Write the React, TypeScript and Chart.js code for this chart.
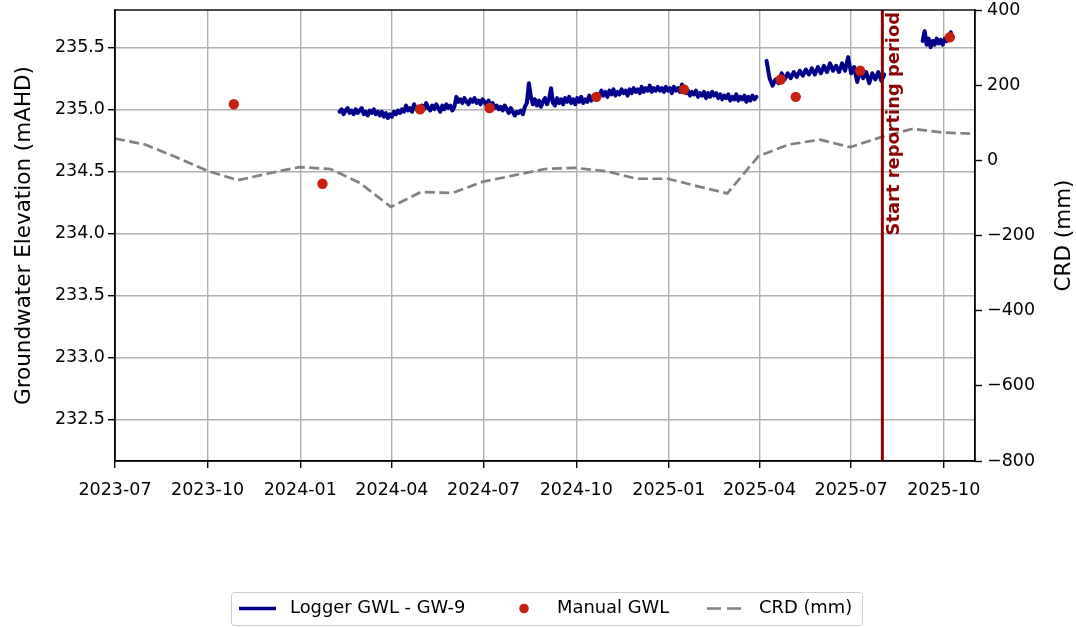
import React, { useEffect, useRef } from "react";
import { Chart, registerables } from "chart.js";

Chart.register(...registerables);

// ---------- data ----------
const X_MIN = "2023-07-01";
const X_MAX = "2025-11-01";
const X_TICK_LABELS = ["2023-07", "2023-10", "2024-01", "2024-04", "2024-07", "2024-10", "2025-01", "2025-04", "2025-07", "2025-10"];
const Y_MIN = 232.165;
const Y_MAX = 235.8;
const Y_TICKS = [232.5, 233.0, 233.5, 234.0, 234.5, 235.0, 235.5];
const Y1_MIN = -800;
const Y1_MAX = 400;
const Y1_TICKS = [-800, -600, -400, -200, 0, 200, 400];
const REPORT_START = "2025-08-01";
const REPORT_LABEL = "Start reporting period";

// Logger GWL (regularly spaced readings per segment)
const LOGGER_SEG1_START = "2024-02-09";
const LOGGER_SEG1_STEP_DAYS = 2;
const LOGGER_SEG1 = [
  234.98, 235.0, 234.96, 234.99, 235.01, 234.97, 234.99, 234.96, 235.0, 234.97,
  234.99, 235.01, 234.96, 234.98, 234.95, 234.99, 234.97, 235.0, 234.96, 234.98,
  234.95, 234.98, 234.94, 234.97, 234.93, 234.96, 234.94, 234.98, 234.96, 234.99,
  234.97, 235.0, 234.98, 235.03, 234.99, 235.01, 234.98, 235.04, 235.0, 235.02,
  234.99, 235.03, 235.0, 235.05, 235.01, 234.99, 235.03, 235.0, 235.04, 235.01,
  234.98, 235.03, 235.0, 235.04, 235.01, 235.03, 234.99, 235.02, 235.1, 235.06,
  235.08, 235.05, 235.09, 235.06, 235.04, 235.08, 235.06, 235.09, 235.05, 235.07,
  235.04, 235.08, 235.06, 235.03, 235.07, 235.02, 235.05, 235.01, 235.03, 235.0,
  235.02, 234.99, 235.03, 235.0, 234.97, 235.01, 234.98, 234.95, 234.98, 234.97,
  234.99, 234.96, 235.02, 235.05, 235.21, 235.1, 235.04, 235.08, 235.03, 235.07,
  235.02, 235.06, 235.09, 235.04, 235.08, 235.17, 235.05, 235.03, 235.09, 235.05,
  235.08, 235.04, 235.09, 235.06, 235.1, 235.05, 235.08, 235.04, 235.09, 235.06,
  235.1, 235.05, 235.08, 235.06, 235.11, 235.07, 235.1, 235.08, 235.12, 235.1,
  235.15, 235.11, 235.14, 235.1, 235.15, 235.12, 235.16, 235.11, 235.14, 235.12,
  235.16, 235.13, 235.15, 235.11, 235.16, 235.13, 235.17, 235.14, 235.16, 235.13,
  235.18, 235.14, 235.17, 235.15, 235.19, 235.14, 235.17, 235.15, 235.18, 235.15,
  235.17, 235.14, 235.18, 235.15, 235.17, 235.13, 235.18, 235.15, 235.17, 235.14,
  235.2, 235.16, 235.13, 235.15, 235.11, 235.14, 235.12, 235.15, 235.1, 235.13,
  235.11, 235.14, 235.09, 235.13, 235.1, 235.14, 235.11, 235.13, 235.09, 235.12,
  235.08, 235.11, 235.09, 235.12, 235.07, 235.1, 235.08, 235.12, 235.07, 235.1,
  235.08, 235.11, 235.06, 235.1, 235.07, 235.11, 235.08, 235.1,
];
const LOGGER_SEG2_START = "2025-04-08";
const LOGGER_SEG2_STEP_DAYS = 3;
const LOGGER_SEG2 = [
  235.39, 235.25, 235.19, 235.24, 235.21, 235.29, 235.24, 235.29, 235.25, 235.3,
  235.26, 235.31, 235.27, 235.32, 235.28, 235.33, 235.28, 235.34, 235.29, 235.35,
  235.3, 235.37, 235.31, 235.35, 235.3, 235.37, 235.31, 235.42, 235.29, 235.34,
  235.22, 235.31, 235.25, 235.3, 235.21, 235.29, 235.24, 235.3, 235.23, 235.28,
];
const LOGGER_SEG3_START = "2025-09-10";
const LOGGER_SEG3_STEP_DAYS = 2;
const LOGGER_SEG3 = [
  235.55, 235.63, 235.52, 235.57, 235.5, 235.55, 235.52, 235.57, 235.53, 235.56,
  235.52, 235.57, 235.55, 235.59, 235.62,
];

// Manual GWL
const MANUAL_DATES = ["2023-10-27", "2024-01-23", "2024-04-29", "2024-07-07", "2024-10-21", "2025-01-16", "2025-04-22", "2025-05-07", "2025-07-10", "2025-10-07"];
const MANUAL_GWL = [235.04, 234.4, 235.0, 235.01, 235.1, 235.16, 235.24, 235.1, 235.31, 235.58];

// CRD (mm)
const CRD_DATES = [
  "2023-07-01", "2023-07-31", "2023-08-31", "2023-09-30", "2023-10-31", "2023-11-30", "2023-12-31",
  "2024-01-31", "2024-02-29", "2024-03-31", "2024-04-30", "2024-05-31", "2024-06-30", "2024-07-31",
  "2024-08-31", "2024-09-30", "2024-10-31", "2024-11-30", "2024-12-31", "2025-01-31", "2025-02-28",
  "2025-03-31", "2025-04-30", "2025-05-31", "2025-06-30", "2025-07-31", "2025-08-31", "2025-09-30", "2025-10-27",
];
const CRD_MM = [
  58, 42, 8, -27, -53, -35, -18,
  -23, -60, -124, -84, -87, -57, -40,
  -23, -20, -29, -49, -49, -70, -88,
  11, 42, 55, 35, 62, 84, 74, 71,
];

// ---------- helpers ----------
const DAY_MS = 86400000;
const dayOf = (s: string) => (Date.parse(s + "T00:00:00Z") - Date.parse(X_MIN + "T00:00:00Z")) / DAY_MS;

function segment(start: string, step: number, vals: number[]) {
  const d0 = dayOf(start);
  return vals.map((v, i) => ({ x: d0 + i * step, y: v }));
}

const FONT = "'DejaVu Sans', 'Liberation Sans', sans-serif";
const LOGGER_COLOR = "#00008b";
const MANUAL_COLOR = "#c8200e";
const CRD_COLOR = "#808080";
const VLINE_COLOR = "#8b0000";

const PLOT_LEFT = 115;
const PLOT_RIGHT = 975;
const PLOT_TOP = 10;
const PLOT_BOTTOM = 461;
const W = 1076;
const H = 627;

export default function App() {
  const ref = useRef<HTMLCanvasElement | null>(null);

  useEffect(() => {
    const canvas = ref.current;
    if (!canvas) return;

    const s1 = segment(LOGGER_SEG1_START, LOGGER_SEG1_STEP_DAYS, LOGGER_SEG1);
    const s2 = segment(LOGGER_SEG2_START, LOGGER_SEG2_STEP_DAYS, LOGGER_SEG2);
    const s3 = segment(LOGGER_SEG3_START, LOGGER_SEG3_STEP_DAYS, LOGGER_SEG3);
    const loggerData: any[] = [
      ...s1,
      { x: s1[s1.length - 1].x + 1, y: null },
      ...s2,
      { x: s2[s2.length - 1].x + 1, y: null },
      ...s3,
    ];
    const manualData = MANUAL_DATES.map((d, i) => ({ x: dayOf(d), y: MANUAL_GWL[i] }));
    const crdData = CRD_DATES.map((d, i) => ({ x: dayOf(d), y: CRD_MM[i] }));
    const xTicks = X_TICK_LABELS.map((l) => dayOf(l + "-01"));

    const overlay = {
      id: "overlay",
      afterDatasetsDraw(chart: any) {
        const { ctx, chartArea, scales } = chart;
        const x = scales.x.getPixelForValue(dayOf(REPORT_START));
        ctx.save();
        ctx.strokeStyle = VLINE_COLOR;
        ctx.lineWidth = 3;
        ctx.beginPath();
        ctx.moveTo(x, chartArea.top);
        ctx.lineTo(x, chartArea.bottom);
        ctx.stroke();
        ctx.translate(x + 3, chartArea.top + 2);
        ctx.rotate(-Math.PI / 2);
        ctx.fillStyle = VLINE_COLOR;
        ctx.font = `bold 17.9px ${FONT}`;
        ctx.textAlign = "right";
        ctx.textBaseline = "top";
        ctx.fillText(REPORT_LABEL, 0, 0);
        ctx.restore();
      },
      afterDraw(chart: any) {
        const { ctx, chartArea } = chart;
        ctx.save();
        // frame
        ctx.strokeStyle = "#000";
        ctx.lineWidth = 1.4;
        ctx.strokeRect(chartArea.left, chartArea.top, chartArea.right - chartArea.left, chartArea.bottom - chartArea.top);

        // axis titles
        ctx.fillStyle = "#000";
        ctx.font = `21.5px ${FONT}`;
        ctx.textAlign = "center";
        ctx.textBaseline = "middle";
        const cy = (chartArea.top + chartArea.bottom) / 2;
        ctx.save();
        ctx.translate(24, cy);
        ctx.rotate(-Math.PI / 2);
        ctx.fillText("Groundwater Elevation (mAHD)", 0, 0);
        ctx.restore();
        ctx.save();
        ctx.translate(1064, cy);
        ctx.rotate(-Math.PI / 2);
        ctx.fillText("CRD (mm)", 0, 0);
        ctx.restore();

        // legend
        const bx = 231, by = 592, bw = 631, bh = 33;
        ctx.fillStyle = "#fff";
        ctx.strokeStyle = "#cccccc";
        ctx.lineWidth = 1;
        ctx.beginPath();
        (ctx as any).roundRect(bx + 0.5, by + 0.5, bw, bh, 3);
        ctx.fill();
        ctx.stroke();
        const ly = by + bh / 2;
        ctx.font = `17.9px ${FONT}`;
        ctx.textAlign = "left";
        ctx.textBaseline = "middle";
        // logger
        ctx.strokeStyle = LOGGER_COLOR;
        ctx.lineWidth = 3.5;
        ctx.beginPath();
        ctx.moveTo(239, ly);
        ctx.lineTo(276, ly);
        ctx.stroke();
        ctx.fillStyle = "#000";
        ctx.fillText("Logger GWL - GW-9", 290, ly);
        // manual
        ctx.fillStyle = MANUAL_COLOR;
        ctx.beginPath();
        ctx.arc(524, ly, 4.8, 0, Math.PI * 2);
        ctx.fill();
        ctx.fillStyle = "#000";
        ctx.fillText("Manual GWL", 557, ly);
        // crd
        ctx.strokeStyle = CRD_COLOR;
        ctx.lineWidth = 2.7;
        ctx.setLineDash([14, 6]);
        ctx.beginPath();
        ctx.moveTo(707, ly);
        ctx.lineTo(744, ly);
        ctx.stroke();
        ctx.setLineDash([]);
        ctx.fillStyle = "#000";
        ctx.fillText("CRD (mm)", 759, ly);
        ctx.restore();
      },
    };

    const tickFont = { family: FONT, size: 17.5 };
    const zeroPad = (s: any) => {
      s.paddingTop = 0;
      s.paddingBottom = 0;
    };

    const chart = new Chart(canvas, {
      type: "line",
      data: {
        datasets: [
          {
            label: "Manual GWL",
            data: manualData as any,
            yAxisID: "y",
            showLine: false,
            pointRadius: 5.2,
            pointHoverRadius: 5.2,
            pointBackgroundColor: MANUAL_COLOR,
            pointBorderColor: MANUAL_COLOR,
            pointBorderWidth: 0,
            borderColor: MANUAL_COLOR,
            backgroundColor: MANUAL_COLOR,
          },
          {
            label: "Logger GWL - GW-9",
            data: loggerData,
            yAxisID: "y",
            borderColor: LOGGER_COLOR,
            borderWidth: 4,
            pointRadius: 0,
            tension: 0,
            spanGaps: false,
            borderJoinStyle: "round",
            borderCapStyle: "round",
          },
          {
            label: "CRD (mm)",
            data: crdData as any,
            yAxisID: "y1",
            borderColor: CRD_COLOR,
            borderWidth: 2.7,
            borderDash: [10, 4.5],
            pointRadius: 0,
            tension: 0,
          },
        ],
      },
      options: {
        animation: false,
        responsive: false,
        maintainAspectRatio: false,
        events: [],
        layout: { padding: { top: PLOT_TOP, left: 0, right: 0, bottom: 0 } },
        plugins: {
          legend: { display: false },
          tooltip: { enabled: false },
          title: { display: false },
        },
        scales: {
          x: {
            type: "linear",
            min: dayOf(X_MIN),
            max: dayOf(X_MAX),
            afterBuildTicks: (s: any) => {
              s.ticks = xTicks.map((v) => ({ value: v }));
            },
            afterFit: (s: any) => {
              s.height = H - PLOT_BOTTOM;
              s.paddingLeft = 0;
              s.paddingRight = 0;
            },
            ticks: {
              autoSkip: false,
              maxRotation: 0,
              minRotation: 0,
              padding: 12,
              color: "#000",
              font: tickFont,
              callback: (v: any) => {
                const i = xTicks.indexOf(Number(v));
                return i >= 0 ? X_TICK_LABELS[i] : "";
              },
            },
            grid: { color: "#b0b0b0", lineWidth: 1.4, tickColor: "#000", tickWidth: 1.4, tickLength: 7 },
            border: { display: true, color: "#000", width: 1.4 },
          },
          y: {
            type: "linear",
            position: "left",
            min: Y_MIN,
            max: Y_MAX,
            afterBuildTicks: (s: any) => {
              s.ticks = Y_TICKS.map((v) => ({ value: v }));
            },
            afterFit: (s: any) => {
              s.width = PLOT_LEFT;
              zeroPad(s);
            },
            ticks: {
              padding: 3,
              color: "#000",
              font: tickFont,
              callback: (v: any) => Number(v).toFixed(1),
            },
            grid: { color: "#b0b0b0", lineWidth: 1.4, tickColor: "#000", tickWidth: 1.4, tickLength: 7 },
            border: { display: true, color: "#000", width: 1.4 },
          },
          y1: {
            type: "linear",
            position: "right",
            min: Y1_MIN,
            max: Y1_MAX,
            afterBuildTicks: (s: any) => {
              s.ticks = Y1_TICKS.map((v) => ({ value: v }));
            },
            afterFit: (s: any) => {
              s.width = W - PLOT_RIGHT;
              zeroPad(s);
            },
            ticks: {
              padding: 5,
              color: "#000",
              font: tickFont,
              callback: (v: any) => {
                const n = Number(v);
                return n < 0 ? "\u2212" + Math.abs(n) : String(n);
              },
            },
            grid: { drawOnChartArea: false, tickColor: "#000", tickWidth: 1.4, tickLength: 7 },
            border: { display: true, color: "#000", width: 1.4 },
          },
        },
      },
      plugins: [overlay],
    } as any);

    return () => chart.destroy();
  }, []);

  return (
    <div style={{ position: "absolute", left: 0, top: 0, width: W, height: H, background: "#fff" }}>
      <canvas ref={ref} width={W} height={H} style={{ display: "block", width: W, height: H }} />
    </div>
  );
}
